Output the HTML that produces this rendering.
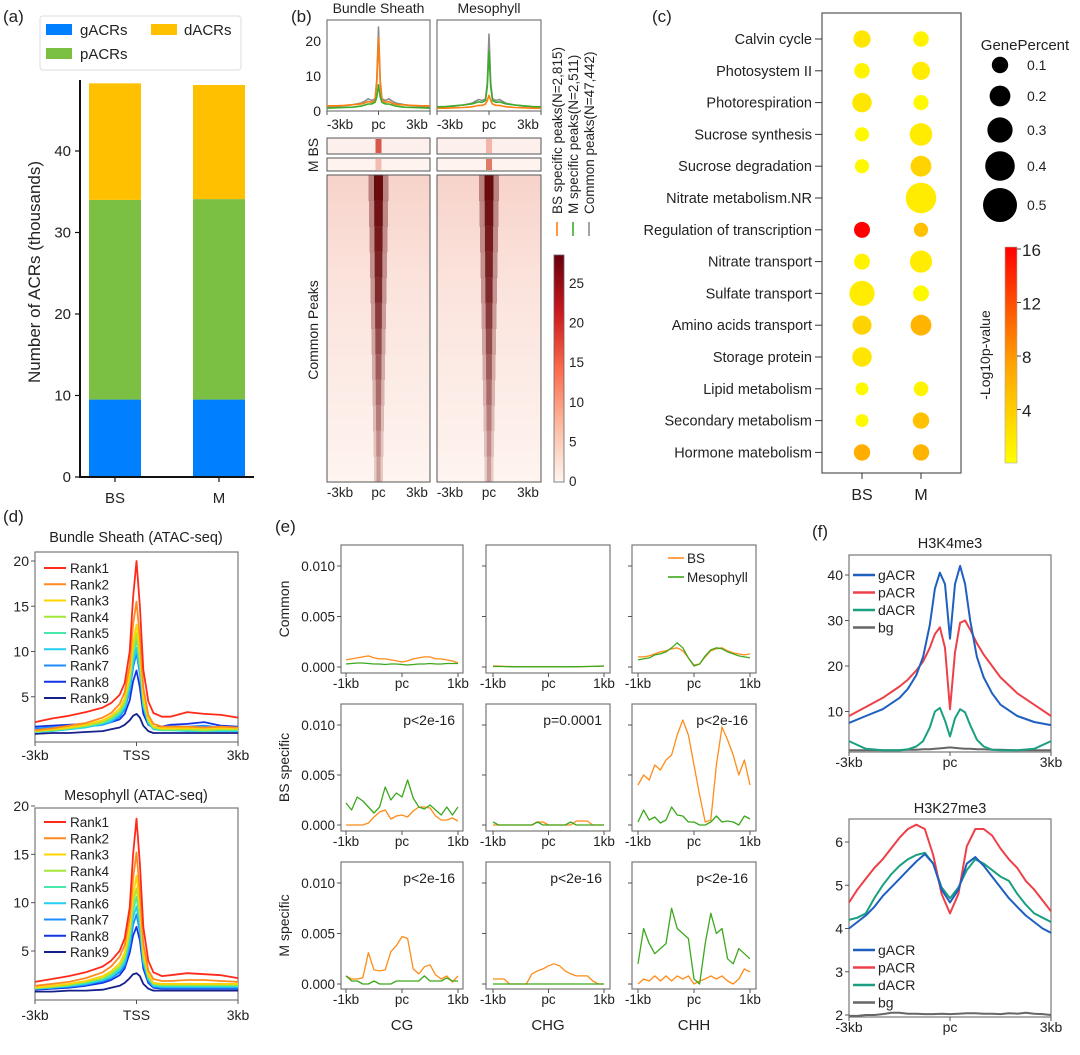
<!DOCTYPE html>
<html><head><meta charset="utf-8">
<style>
html,body{margin:0;padding:0;background:#fff;}
svg{display:block;font-family:"Liberation Sans",Arial,sans-serif;}
</style></head>
<body>
<svg id="fig" width="1080" height="1055" viewBox="0 0 1080 1055" xmlns="http://www.w3.org/2000/svg">
<defs>
<linearGradient id="redsBar" x1="0" y1="1" x2="0" y2="0">
<stop offset="0" stop-color="#fff5f0"/><stop offset="0.25" stop-color="#fcbba1"/><stop offset="0.5" stop-color="#fb6a4a"/><stop offset="0.75" stop-color="#cb181d"/><stop offset="1" stop-color="#67000d"/>
</linearGradient>
<linearGradient id="pvalBar" x1="0" y1="1" x2="0" y2="0">
<stop offset="0" stop-color="#ffff00"/><stop offset="0.45" stop-color="#ffa500"/><stop offset="1" stop-color="#ff0000"/>
</linearGradient>
<linearGradient id="hmBg" x1="0" y1="0" x2="0" y2="1">
<stop offset="0" stop-color="#f7d3ca"/><stop offset="0.35" stop-color="#fbe3dc"/><stop offset="1" stop-color="#fef4f0"/>
</linearGradient>
</defs>
</svg>
<script>
// ---------- data ----------
const barCats = ["BS","M"];
const gACRs = [9.5, 9.5];
const pACRs = [24.5, 24.6];
const dACRs = [14.3, 14.0];
const barTicks = [0,10,20,30,40];

const bX = [-3,-2.5,-2,-1.5,-1,-0.8,-0.6,-0.4,-0.2,-0.1,0,0.1,0.2,0.4,0.6,0.8,1,1.5,2,2.5,3];
const bsPanelCommon = [1.2,1.3,1.5,1.8,2.3,2.8,3.5,3,3.5,9,24,9,3.5,3,3.5,2.8,2.3,1.8,1.5,1.3,1.2];
const bsPanelBS = [1.5,1.5,1.6,1.8,2.0,2.3,2.7,2.5,3,8,21,8,3,2.5,2.7,2.2,1.9,1.7,1.6,1.5,1.5];
const bsPanelM = [0.8,0.9,1.0,1.1,1.4,1.7,2.0,2.0,2.5,4,7.5,4,2.5,2.0,2.0,1.7,1.4,1.1,1.0,0.9,0.8];
const mPanelCommon = [1.1,1.2,1.4,1.7,2.2,2.7,3.3,3,3.5,8,22,8,3.5,3,3.3,2.7,2.2,1.7,1.4,1.2,1.1];
const mPanelM = [1.2,1.3,1.5,1.7,2.0,2.3,2.6,2.5,3,7,17,7,3,2.5,2.6,2.3,2.0,1.7,1.5,1.3,1.2];
const mPanelBS = [0.8,0.8,0.9,1.0,1.2,1.4,1.6,1.6,2,3,4.5,3,2,1.6,1.6,1.4,1.2,1.0,0.9,0.8,0.8];
const stripeIntensity = [28,27,26,25,24,22,20,18,16,14,12,10];
const colorbarTicks = [0,5,10,15,20,25];

const terms = ["Calvin cycle","Photosystem II","Photorespiration","Sucrose synthesis","Sucrose degradation","Nitrate metabolism.NR","Regulation of transcription","Nitrate transport","Sulfate transport","Amino acids transport","Storage protein","Lipid metabolism","Secondary metabolism","Hormone matebolism"];
const pctBS = [0.12,0.08,0.17,0.05,0.05,null,0.09,0.09,0.30,0.16,0.17,0.02,0.02,0.10];
const pctM = [0.08,0.14,0.07,0.24,0.20,0.42,0.05,0.23,0.09,0.20,null,0.06,0.10,0.10];
const pvBS = [2,1,2,0.5,0.5,null,16,1,1.5,3.5,2,0.5,0.5,6.5];
const pvM = [1,1.5,0.5,1.5,3.5,1.5,5,1.5,0.5,6,null,1,5,6];
const sizeLegend = [0.1,0.2,0.3,0.4,0.5];
const pTicks = [4,8,12,16];

const dX = [-3,-2.5,-2,-1.5,-1,-0.75,-0.5,-0.35,-0.2,-0.1,0,0.1,0.2,0.35,0.5,0.75,1,1.5,2,2.5,3];
const rankNames = ["Rank1","Rank2","Rank3","Rank4","Rank5","Rank6","Rank7","Rank8","Rank9"];
const bsRank1 = [2.2,2.6,2.9,3.3,3.8,4.3,5.2,6.5,10,16,20,15,8,4.5,3.2,2.8,2.8,3.3,3.1,3.0,2.7];
const bsRank2 = [1.3,1.5,1.8,2.1,2.7,3.2,4.2,5.5,8.5,13,15.5,11.5,6,3,2,1.7,1.7,1.7,1.6,1.7,1.6];
const bsRank3 = [1.2,1.4,1.6,1.9,2.4,2.9,3.7,4.8,7.5,11,13,10,5,2.6,1.7,1.5,1.5,1.5,1.5,1.5,1.5];
const bsRank4 = [1.2,1.3,1.5,1.8,2.2,2.7,3.4,4.4,7,10.2,12,9.2,4.6,2.4,1.6,1.4,1.4,1.4,1.3,1.4,1.4];
const bsRank5 = [1.1,1.3,1.5,1.7,2.1,2.5,3.2,4.1,6.5,9.5,11.3,8.6,4.3,2.2,1.5,1.3,1.3,1.3,1.2,1.3,1.3];
const bsRank6 = [1.1,1.2,1.4,1.6,2.0,2.3,3.0,3.8,6,8.8,10.4,8,4,2.1,1.4,1.3,1.3,1.2,1.2,1.2,1.2];
const bsRank7 = [1.5,1.6,1.6,1.7,1.9,2.2,2.8,3.6,5.6,8.2,9.8,7.5,3.8,2.0,1.5,1.6,1.7,1.7,1.8,1.6,1.6];
const bsRank8 = [1.7,1.8,1.9,2.0,2.0,2.2,2.5,3.1,4.6,6.7,7.9,6,3.1,1.9,1.6,1.7,1.9,2.0,2.2,1.8,1.7];
const bsRank9 = [0.9,1.0,1.0,1.1,1.2,1.4,1.6,1.9,2.4,2.9,3.1,2.7,1.8,1.2,1.0,1.0,1.0,1.0,1.0,1.0,1.0];
const mRank1 = [1.8,2.1,2.4,2.8,3.4,4.0,5.0,6.3,9.5,15,18.7,14,7.5,4,2.8,2.4,2.5,2.7,2.6,2.5,2.2];
const mRank2 = [1.4,1.6,1.8,2.2,2.8,3.4,4.4,5.6,8.5,12.5,15.2,11,5.8,3,2.1,1.9,1.9,2.0,2.0,1.9,1.8];
const mRank3 = [1.2,1.4,1.6,1.9,2.4,2.9,3.7,4.8,7.4,10.8,12.8,9.6,4.9,2.6,1.7,1.6,1.6,1.6,1.6,1.6,1.6];
const mRank4 = [1.2,1.3,1.5,1.8,2.2,2.7,3.4,4.4,6.9,10,11.5,8.8,4.5,2.4,1.6,1.5,1.5,1.5,1.5,1.5,1.5];
const mRank5 = [1.1,1.3,1.4,1.7,2.1,2.5,3.2,4.1,6.4,9.2,10.6,8.2,4.2,2.2,1.5,1.4,1.4,1.4,1.4,1.4,1.4];
const mRank6 = [1.1,1.2,1.4,1.6,2.0,2.3,3.0,3.8,5.9,8.5,9.6,7.6,3.9,2.1,1.4,1.3,1.3,1.3,1.3,1.3,1.3];
const mRank7 = [1.1,1.2,1.3,1.5,1.9,2.2,2.8,3.5,5.4,7.7,8.8,7,3.6,1.9,1.3,1.2,1.2,1.2,1.2,1.2,1.2];
const mRank8 = [1.0,1.1,1.2,1.4,1.7,2.0,2.5,3.2,4.8,6.6,7.5,6.1,3.2,1.7,1.2,1.1,1.1,1.1,1.1,1.1,1.1];
const mRank9 = [0.8,0.8,0.9,0.9,1.0,1.2,1.4,1.7,2.2,2.6,2.7,2.4,1.6,1.1,0.9,0.9,0.9,0.9,0.9,0.9,0.9];
const rankColors = ["#ff2a1a","#ff8a1e","#ffd400","#a6e63a","#48e8a8","#22cff0","#1e8cff","#1434e6","#15208a"];
const dTicks = [5,10,15,20];

const eX = [-1,-0.9,-0.8,-0.7,-0.6,-0.5,-0.4,-0.3,-0.2,-0.1,0,0.1,0.2,0.3,0.4,0.5,0.6,0.7,0.8,0.9,1];
const eTicks = [0,0.005,0.01];
const commonCG_BS = [0.7,0.8,0.9,1.0,1.1,0.9,0.8,0.8,0.7,0.6,0.5,0.6,0.8,0.9,1.0,1.0,0.8,0.8,0.7,0.6,0.4];
const commonCG_M = [0.3,0.35,0.4,0.4,0.35,0.3,0.3,0.25,0.3,0.3,0.25,0.2,0.25,0.3,0.3,0.35,0.3,0.3,0.35,0.35,0.35];
const commonCHG_BS = [0.1,0.1,0.05,0.05,0.03,0.02,0.02,0.02,0.02,0.02,0.02,0.02,0.02,0.02,0.03,0.03,0.04,0.05,0.06,0.08,0.1];
const commonCHG_M = [0.05,0.05,0.05,0.03,0.02,0.02,0.02,0.02,0.02,0.02,0.02,0.02,0.02,0.02,0.03,0.03,0.04,0.05,0.06,0.08,0.1];
const commonCHH_BS = [1.0,1.0,1.1,1.3,1.5,1.6,1.8,1.9,1.6,0.9,0.2,0.3,1.0,1.6,1.8,1.9,1.6,1.4,1.3,1.2,1.3];
const commonCHH_M = [0.7,0.8,0.9,1.2,1.3,1.5,1.9,2.4,1.9,0.9,0.1,0.3,1.1,1.7,1.9,1.8,1.5,1.3,1.1,1.0,0.9];
const bsCG_BS = [0,0,0,0,0.2,0.8,1.3,1.5,0.6,0.9,1.0,0.8,1.4,1.8,1.8,1.7,0.9,0.5,0.5,0.7,0.4];
const bsCG_M = [2.2,1.5,2.8,2.4,1.8,1.2,1.8,3.8,2.5,3.2,2.8,4.5,2.7,1.8,1.6,2.0,1.5,1.0,1.8,1.0,1.8];
const bsCHG_BS = [0,0,0,0,0,0,0,0,0.3,0.3,0,0,0,0,0,0.4,0.4,0.4,0,0,0];
const bsCHG_M = [0.3,0,0,0,0,0,0,0,0.3,0,0,0,0,0,0.3,0,0,0,0,0,0];
const bsCHH_BS = [4,5,4.5,6,5.5,6.5,7,9,10.5,9,6,3,0.3,0.5,6,9.8,8.5,7,5,6.5,4];
const bsCHH_M = [0.3,1.5,0.5,0.8,0.2,0.5,1.8,1.0,0.9,0.3,0.3,0,0,0.3,0.9,0.3,0.4,0.3,0,0.9,0.6];
const mCG_BS = [0.8,0.5,0.5,0.6,3.1,1.4,1.3,1.4,3.2,3.8,4.7,4.5,1.5,1.0,1.7,1.9,0.9,0.5,0.8,0.2,0.8];
const mCG_M = [0.8,0.3,0.3,0,0,0.3,0,0,0,0.3,0.3,0.3,0.3,0.3,0.8,0.3,0.3,0.3,0.6,0.3,0.3];
const mCHG_BS = [0.5,0.5,0.5,0,0,0,0,1.0,1.3,1.5,1.8,2.0,1.8,1.3,1.0,0.8,0.8,0.8,0.3,0,0];
const mCHG_M = [0,0,0,0,0,0,0,0,0,0,0,0,0,0,0,0,0,0,0,0,0];
const mCHH_BS = [0,0.5,0.3,0.8,0.3,0.8,0.3,0.8,0.5,0.8,0,0.3,0.5,0.8,0.5,0.8,0.3,0,0.5,1.5,1.2];
const mCHH_M = [2,5.5,4,3,3.5,4,7.5,5.5,5,4.5,0.5,0,4,7,5,5.5,2.5,2,3.5,3,2.5];
const pTexts = [["","",""],["p<2e-16","p=0.0001","p<2e-16"],["p<2e-16","p<2e-16","p<2e-16"]];

const fX1 = [-3,-2.5,-2,-1.5,-1.25,-1,-0.8,-0.6,-0.45,-0.3,-0.15,0,0.15,0.3,0.45,0.6,0.8,1,1.25,1.5,2,2.5,3];
const k4g = [7.5,9,10.5,13,15,18,22,29,37,40.5,38,26,38,42,38,30,22,17.5,14,11.5,9,7.7,7];
const k4p = [9,11,13,15.5,17,19,21,24,27,28.5,24,10.5,23,29.5,30,28,25,22.5,20,17.5,14,11.5,9];
const k4d = [3.5,1.8,1.5,1.5,1.7,2.3,3.5,6.5,10,10.8,8,4.5,8.5,10.5,9.8,7,3.8,2.3,1.6,1.5,1.5,1.8,3.5];
const k4bg = [1.5,1.5,1.5,1.5,1.6,1.6,1.7,1.7,1.8,1.9,2,2.1,2,1.9,1.8,1.8,1.7,1.7,1.6,1.6,1.5,1.5,1.5];
const fX2 = [-3,-2.75,-2.5,-2.25,-2,-1.75,-1.5,-1.25,-1,-0.75,-0.5,-0.25,0,0.25,0.5,0.75,1,1.25,1.5,1.75,2,2.25,2.5,2.75,3];
const k27g = [4.0,4.15,4.3,4.5,4.75,4.95,5.15,5.35,5.55,5.72,5.5,4.9,4.6,4.9,5.5,5.65,5.45,5.2,4.95,4.7,4.5,4.3,4.15,4.0,3.9];
const k27p = [4.6,4.9,5.15,5.4,5.6,5.85,6.1,6.3,6.4,6.3,5.7,4.8,4.35,4.8,5.9,6.3,6.3,6.15,5.85,5.6,5.4,5.1,4.9,4.65,4.4];
const k27d = [4.2,4.25,4.35,4.7,5.0,5.25,5.45,5.6,5.7,5.75,5.5,4.95,4.7,4.95,5.35,5.6,5.5,5.35,5.2,5.1,4.8,4.55,4.35,4.25,4.15];
const k27bg = [1.98,1.98,2.0,2.0,2.02,2.05,2.05,2.03,2.03,2.02,2.02,2.03,2.02,2.03,2.04,2.04,2.03,2.03,2.02,2.04,2.03,2.05,2.03,2.02,2.0];
const fNames = ["gACR","pACR","dACR","bg"];
const fColors = ["#1f5fbf","#ee4048","#1aa080","#666666"];
const k4Ticks = [10,20,30,40];
const k27Ticks = [2,3,4,5,6];

// ---------- helpers ----------
const NS = "http://www.w3.org/2000/svg";
const svg = document.getElementById("fig");
function mk(tag, attrs, name, parent) {
  const el = document.createElementNS(NS, tag);
  for (const k in attrs) el.setAttribute(k, attrs[k]);
  
  
  (parent || svg).appendChild(el);
  return el;
}
function txt(x, y, s, size, anchor, name, extra) {
  const a = Object.assign({x: x, y: y, "font-size": size, "text-anchor": anchor || "start", fill: "#222"}, extra || {});
  const t = mk("text", a, name);
  t.textContent = s;
  return t;
}
function lin(d0, d1, r0, r1) { return v => r0 + (v - d0) * (r1 - r0) / (d1 - d0); }
function line(xs, ys, sx, sy, color, w, name) {
  const pts = xs.map((x, i) => sx(x).toFixed(1) + "," + sy(ys[i]).toFixed(1)).join(" ");
  return mk("polyline", {points: pts, fill: "none", stroke: color, "stroke-width": w, "stroke-linejoin": "round"}, name);
}
function box(x0, y0, x1, y1, name, stroke) {
  return mk("rect", {x: x0, y: y0, width: x1 - x0, height: y1 - y0, fill: "none", stroke: stroke || "#777", "stroke-width": 1.2}, name);
}

// ---------- panel a ----------
txt(3, 22, "(a)", 17, "start", "panel-a-label");
{
  const sy = lin(0, 10, 477, 395.5);
  const cx = [115, 219], bw = 52;
  const cols = ["#0080ff", "#7bc043", "#ffc000"];
  const series = [gACRs, pACRs, dACRs];
  barCats.forEach((c, i) => {
    let base = 0;
    series.forEach((s, j) => {
      mk("rect", {x: cx[i] - bw/2, y: sy(base + s[i]), width: bw, height: sy(base) - sy(base + s[i]), fill: cols[j]}, "bar-" + c + "-" + ["g","p","d"][j]);
      base += s[i];
    });
    txt(cx[i], 503, c, 15, "middle", "x-label-" + c);
    mk("line", {x1: cx[i], y1: 477, x2: cx[i], y2: 482, stroke: "#111", "stroke-width": 1.2}, "x-tick");
  });
  mk("line", {x1: 80, y1: 80, x2: 80, y2: 478, stroke: "#111", "stroke-width": 2}, "y-axis");
  mk("line", {x1: 79, y1: 477, x2: 254, y2: 477, stroke: "#111", "stroke-width": 2}, "x-axis");
  barTicks.forEach(t => {
    mk("line", {x1: 75, y1: sy(t), x2: 80, y2: sy(t), stroke: "#111", "stroke-width": 1.2}, "y-tick");
    txt(71, sy(t) + 5, String(t), 15, "end", "y-tick-label");
  });
  txt(0, 0, "Number of ACRs (thousands)", 17, "middle", "y-axis-title", {transform: "translate(40,272) rotate(-90)"});
  mk("rect", {x: 40, y: 16, width: 201, height: 54, rx: 3, fill: "#fff", stroke: "#ddd"}, "legend-box");
  mk("rect", {x: 46, y: 24, width: 26, height: 11, fill: cols[0]}, "legend-swatch-g");
  txt(80, 35, "gACRs", 15, "start", "legend-entry-g");
  mk("rect", {x: 151, y: 24, width: 26, height: 11, fill: cols[2]}, "legend-swatch-d");
  txt(184, 35, "dACRs", 15, "start", "legend-entry-d");
  mk("rect", {x: 46, y: 48, width: 26, height: 11, fill: cols[1]}, "legend-swatch-p");
  txt(80, 59, "pACRs", 15, "start", "legend-entry-p");
}

// ---------- panel b ----------
txt(291, 22, "(b)", 17, "start", "panel-b-label");
{
  const panels = [[327, 430, "Bundle Sheath", [bsPanelCommon, bsPanelBS, bsPanelM], "bs"], [437, 541, "Mesophyll", [mPanelCommon, mPanelBS, mPanelM], "m"]];
  const sy = lin(0, 10, 111, 76);
  const cl = ["#8c8c8c", "#ff7f0e", "#3cab2a"];
  panels.forEach((p, pi) => {
    const [x0, x1, title, ser, key] = p;
    const sx = lin(-3, 3, x0, x1);
    txt((x0 + x1)/2, 13, title, 14, "middle", "profile-title-" + key);
    box(x0, 20, x1, 111, "profile-frame-" + key);
    ser.forEach((s, j) => line(bX, s, sx, sy, cl[j], 1.6, "profile-line-" + key + "-" + j));
    [[-3,"-3kb",13],[0,"pc",0],[3,"3kb",-13]].forEach(t => {
      mk("line", {x1: sx(t[0]), y1: 111, x2: sx(t[0]), y2: 115, stroke: "#555"}, "x-tick");
      txt(sx(t[0]) + t[2], 129, t[1], 13.5, "middle", "profile-x-label");
      txt(sx(t[0]) + t[2], 497, t[1], 13.5, "middle", "heatmap-x-label");
    });
    if (pi === 0) {
      [0, 10, 20].forEach(t => txt(321, sy(t) + 5, String(t), 14, "end", "profile-y-label"));
    }
    const cx = sx(0);
    mk("rect", {x: x0, y: 138, width: x1 - x0, height: 16, fill: "#fdf0ec", stroke: "#555"}, "heatmap-bs-box-" + key);
    mk("rect", {x: x0, y: 158, width: x1 - x0, height: 13, fill: "#fef3ef", stroke: "#555"}, "heatmap-m-box-" + key);
    mk("rect", {x: cx - 3, y: 139, width: 6, height: 14, fill: pi === 0 ? "#d8564a" : "#f2b5a8"}, "heatmap-bs-center-" + key);
    mk("rect", {x: cx - 3, y: 159, width: 6, height: 11, fill: pi === 0 ? "#f3bcb0" : "#e07a68"}, "heatmap-m-center-" + key);
    mk("rect", {x: x0, y: 175, width: x1 - x0, height: 307, fill: "url(#hmBg)"}, "heatmap-common-" + key);
    const segH = 307 / stripeIntensity.length;
    const cScale = v => { const t = v / 28; const r = Math.round(255 - t * 150), g = Math.round(235 - t * 225), b = Math.round(228 - t * 215); return "rgb(" + r + "," + g + "," + b + ")"; };
    stripeIntensity.forEach((v, i) => {
      const w = 10 - i * 0.5;
      const y = 175 + i * segH;
      mk("rect", {x: cx - w, y: y, width: 2 * w, height: segH + 0.5, fill: cScale(v * 0.55), opacity: 0.8}, "heatmap-stripe-halo");
      mk("rect", {x: cx - w * 0.45, y: y, width: w * 0.9, height: segH + 0.5, fill: cScale(v)}, "heatmap-stripe-core");
    });
    mk("rect", {x: x0, y: 175, width: x1 - x0, height: 307, fill: "none", stroke: "#555"}, "heatmap-frame-" + key);
  });
  txt(0, 0, "M BS", 14, "middle", "heatmap-group-label", {transform: "translate(318,155) rotate(-90)"});
  txt(0, 0, "Common Peaks", 14, "middle", "heatmap-common-label", {transform: "translate(318,330) rotate(-90)"});
  mk("rect", {x: 554, y: 255, width: 10, height: 227, fill: "url(#redsBar)", stroke: "#666", "stroke-width": 0.8}, "colorbar");
  const cy = lin(0, 25, 481, 283);
  colorbarTicks.forEach(t => txt(569, cy(t) + 5, String(t), 13.5, "start", "colorbar-label"));
  const legs = [["BS specific peaks(N=2,815)", "#ff7f0e", 557], ["M specific peaks(N=2,511)", "#3cab2a", 573], ["Common peaks(N=47,442)", "#8c8c8c", 589]];
  legs.forEach(l => {
    txt(0, 0, l[0], 13.5, "start", "profile-legend-entry", {transform: "translate(" + (l[2] + 5) + ",214) rotate(-90)"});
    mk("line", {x1: l[2], y1: 222, x2: l[2], y2: 236, stroke: l[1], "stroke-width": 1.6}, "profile-legend-swatch");
  });
}

// ---------- panel c ----------
txt(652, 22, "(c)", 17, "start", "panel-c-label");
{
  const rowY = i => 39 + i * 31.8;
  const colX = [862, 921];
  const rad = p => 6 + 22 * p;
  const pc = v => {
    const t = Math.min(1, v / 16);
    if (t < 0.45) { const u = t / 0.45; return "rgb(255," + Math.round(255 - u * 90) + ",0)"; }
    const u = (t - 0.45) / 0.55; return "rgb(255," + Math.round(165 - u * 165) + ",0)";
  };
  box(822, 13, 961, 473, "dotplot-frame", "#555");
  terms.forEach((t, i) => {
    txt(812, rowY(i) + 5, t, 14.5, "end", "term-label");
    mk("line", {x1: 815, y1: rowY(i), x2: 822, y2: rowY(i), stroke: "#333"}, "y-tick");
    [[pctBS, pvBS, "bs"], [pctM, pvM, "m"]].forEach((s, j) => {
      if (s[0][i] === null) return;
      mk("circle", {cx: colX[j], cy: rowY(i), r: rad(s[0][i]), fill: pc(s[1][i])}, "dot-" + s[2] + "-" + i);
    });
  });
  ["BS", "M"].forEach((c, j) => {
    mk("line", {x1: colX[j], y1: 473, x2: colX[j], y2: 479, stroke: "#333"}, "x-tick");
    txt(colX[j], 500, c, 16, "middle", "x-label-" + c);
  });
  txt(1025, 50, "GenePercent", 15, "middle", "size-legend-title");
  const ly = [65, 96, 130, 166, 205];
  sizeLegend.forEach((v, i) => {
    mk("circle", {cx: 1000, cy: ly[i], r: rad(v), fill: "#000"}, "size-legend-dot");
    txt(1027, ly[i] + 5, String(v), 14, "start", "size-legend-label");
  });
  mk("rect", {x: 1005, y: 247, width: 12, height: 216, fill: "url(#pvalBar)", stroke: "#aaa", "stroke-width": 0.6}, "pvalue-colorbar");
  const py = lin(0, 16, 463, 249);
  pTicks.forEach(t => {
    mk("line", {x1: 1017, y1: py(t), x2: 1021, y2: py(t), stroke: "#444"}, "colorbar-tick");
    txt(1022, py(t) + 7, String(t), 17, "start", "pvalue-colorbar-label");
  });
  txt(0, 0, "-Log10p-value", 14, "middle", "pvalue-colorbar-title", {transform: "translate(990,355) rotate(-90)"});
}

// ---------- panel d ----------
txt(3, 522, "(d)", 17, "start", "panel-d-label");
{
  const rowsets = [[bsRank1,bsRank2,bsRank3,bsRank4,bsRank5,bsRank6,bsRank7,bsRank8,bsRank9],[mRank1,mRank2,mRank3,mRank4,mRank5,mRank6,mRank7,mRank8,mRank9]];
  const cfg = [[552, 742, lin(0, 20, 742, 561), "Bundle Sheath (ATAC-seq)", 542, 568, 760, "bs"], [808, 1000, lin(5, 20, 951, 806), "Mesophyll (ATAC-seq)", 800, 822, 1020, "m"]];
  const sx = lin(-3, 3, 35, 238);
  cfg.forEach((c, k) => {
    const [y0, y1, sy, title, ty, ly0, lxy, key] = c;
    txt(136, ty, title, 14.5, "middle", "atac-title-" + key);
    box(35, y0, 238, y1, "atac-frame-" + key);
    for (let i = 8; i >= 0; i--) line(dX, rowsets[k][i], sx, sy, rankColors[i], 1.8, "atac-line-" + key + "-rank" + (i + 1));
    dTicks.forEach(t => {
      mk("line", {x1: 31, y1: sy(t), x2: 35, y2: sy(t), stroke: "#555"}, "y-tick");
      txt(29, sy(t) + 5, String(t), 14, "end", "atac-y-label");
    });
    [[-3,"-3kb"],[0,"TSS"],[3,"3kb"]].forEach(t => {
      mk("line", {x1: sx(t[0]), y1: y1, x2: sx(t[0]), y2: y1 + 4, stroke: "#555"}, "x-tick");
      txt(sx(t[0]), lxy, t[1], 14, "middle", "atac-x-label");
    });
    rankNames.forEach((n, i) => {
      const yy = ly0 + i * 16.25;
      mk("line", {x1: 44, y1: yy, x2: 66, y2: yy, stroke: rankColors[i], "stroke-width": 2}, "legend-swatch");
      txt(70, yy + 5, n, 13.5, "start", "legend-entry");
    });
  });
}

// ---------- panel e ----------
txt(275, 532, "(e)", 17, "start", "panel-e-label");
{
  const cols = [[341, 463, 346, 458], [486, 610, 493, 604], [632, 756, 638, 750]];
  const rows = [[545, 673, 667, 566, 688], [704, 831, 825, 725, 846], [862, 989, 984, 883, 1004]];
  const dataE = [[[commonCG_BS, commonCG_M], [commonCHG_BS, commonCHG_M], [commonCHH_BS, commonCHH_M]],
                 [[bsCG_BS, bsCG_M], [bsCHG_BS, bsCHG_M], [bsCHH_BS, bsCHH_M]],
                 [[mCG_BS, mCG_M], [mCHG_BS, mCHG_M], [mCHH_BS, mCHH_M]]];
  const rowNames = ["Common", "BS specific", "M specific"];
  const colNames = ["CG", "CHG", "CHH"];
  rows.forEach((r, ri) => {
    const sy = lin(0, 0.01, r[2], r[3]);
    txt(0, 0, rowNames[ri], 14, "middle", "row-label", {transform: "translate(289," + ((r[0] + r[1]) / 2) + ") rotate(-90)"});
    cols.forEach((c, ci) => {
      const sx = lin(-1, 1, c[2], c[3]);
      box(c[0], r[0], c[1], r[1], "meth-frame");
      eTicks.forEach(t => {
        mk("line", {x1: c[0] - 4, y1: sy(t), x2: c[0], y2: sy(t), stroke: "#555"}, "y-tick");
        if (ci === 0) txt(c[0] - 6, sy(t) + 5, t.toFixed(3), 13.5, "end", "meth-y-label");
      });
      [[-1,"-1kb"],[0,"pc"],[1,"1kb"]].forEach(t => {
        mk("line", {x1: sx(t[0]), y1: r[1], x2: sx(t[0]), y2: r[1] + 4, stroke: "#555"}, "x-tick");
        txt(sx(t[0]), r[4], t[1], 13.5, "middle", "meth-x-label");
      });
      const d = dataE[ri][ci];
      line(eX, d[0].map(v => v / 1000), sx, sy, "#ff8c1a", 1.3, "meth-line-bs");
      line(eX, d[1].map(v => v / 1000), sx, sy, "#3ca81e", 1.3, "meth-line-m");
      if (pTexts[ri][ci]) txt(c[1] - 8, r[0] + 21, pTexts[ri][ci], 14, "end", "p-value-text");
    });
  });
  colNames.forEach((n, ci) => txt((cols[ci][0] + cols[ci][1]) / 2, 1030, n, 15, "middle", "col-label-" + n));
  mk("line", {x1: 668, y1: 558, x2: 684, y2: 558, stroke: "#ff8c1a", "stroke-width": 1.6}, "legend-swatch-bs");
  txt(687, 563, "BS", 13.5, "start", "legend-entry-bs");
  mk("line", {x1: 668, y1: 577, x2: 684, y2: 577, stroke: "#3ca81e", "stroke-width": 1.6}, "legend-swatch-m");
  txt(687, 582, "Mesophyll", 13.5, "start", "legend-entry-m");
}

// ---------- panel f ----------
txt(812, 537, "(f)", 17, "start", "panel-f-label");
{
  const sx = lin(-3, 3, 849, 1051);
  const cfg = [[555, 752, lin(0, 10, 757, 711.5), "H3K4me3", 548, 767, fX1, [k4g, k4p, k4d, k4bg], k4Ticks, 575, "k4"],
               [819, 1017, lin(2, 6, 1015, 842), "H3K27me3", 813, 1032, fX2, [k27g, k27p, k27d, k27bg], k27Ticks, 950, "k27"]];
  cfg.forEach(c => {
    const [y0, y1, sy, title, ty, lxy, xs, ser, ticks, legY, key] = c;
    txt(950, ty, title, 14.5, "middle", "histone-title-" + key);
    box(849, y0, 1051, y1, "histone-frame-" + key);
    for (let i = 3; i >= 0; i--) line(xs, ser[i], sx, sy, fColors[i], 2, "histone-line-" + key + "-" + fNames[i]);
    ticks.forEach(t => {
      mk("line", {x1: 845, y1: sy(t), x2: 849, y2: sy(t), stroke: "#555"}, "y-tick");
      txt(843, sy(t) + 5, String(t), 14, "end", "histone-y-label");
    });
    [[-3,"-3kb"],[0,"pc"],[3,"3kb"]].forEach(t => {
      mk("line", {x1: sx(t[0]), y1: y1, x2: sx(t[0]), y2: y1 + 4, stroke: "#555"}, "x-tick");
      txt(sx(t[0]), lxy, t[1], 14, "middle", "histone-x-label");
    });
    fNames.forEach((n, i) => {
      const yy = legY + i * 17.5;
      mk("line", {x1: 853, y1: yy, x2: 875, y2: yy, stroke: fColors[i], "stroke-width": 2.5}, "legend-swatch");
      txt(878, yy + 5, n, 14, "start", "legend-entry");
    });
  });
}
</script>
</body></html>
